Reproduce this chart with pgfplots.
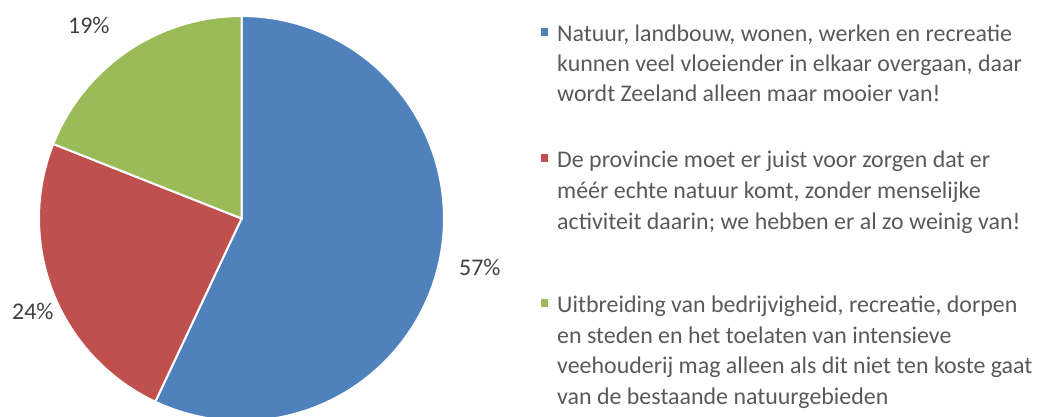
\documentclass[border=0pt]{standalone}
\usepackage{fontspec}
\setmainfont{Carlito}
\usepackage{pgfplots}
\usepackage{pgfplotstable}
\pgfplotsset{compat=1.18}
\definecolor{cblue}{HTML}{4F81BD}
\definecolor{cred}{HTML}{C0504D}
\definecolor{cgreen}{HTML}{9BBB59}
\definecolor{ltext}{HTML}{595959}
\definecolor{dtext}{HTML}{404040}
\pgfplotstableread{
share
57
24
19
}\piedata
\pgfplotstablegetelem{0}{share}\of\piedata\let\va\pgfplotsretval
\pgfplotstablegetelem{1}{share}\of\piedata\let\vb\pgfplotsretval
\pgfplotstablegetelem{2}{share}\of\piedata\let\vc\pgfplotsretval
\pgfmathsetmacro{\aA}{90}
\pgfmathsetmacro{\aB}{90-3.6*\va}
\pgfmathsetmacro{\aC}{\aB-3.6*\vb}
\pgfmathsetmacro{\aD}{\aC-3.6*\vc}
\def\cx{241.5}\def\cy{198.5}\def\rr{202.5}
\begin{document}
\begin{tikzpicture}
\path[use as bounding box] (0,0) rectangle (1038bp,417bp);
\begin{axis}[at={(0,0)},anchor=south west,
  width=1038bp,height=417bp,scale only axis,
  xmin=0,xmax=1038,ymin=0,ymax=417,hide axis,clip=false]
\addplot[fill=cblue,draw=white,line width=2bp,domain=\aA:\aB,samples=120,variable=\t]
  ({\cx+\rr*cos(\t)},{\cy+\rr*sin(\t)}) -- (axis cs:\cx,\cy) -- cycle;
\addplot[fill=cred,draw=white,line width=2bp,domain=\aB:\aC,samples=60,variable=\t]
  ({\cx+\rr*cos(\t)},{\cy+\rr*sin(\t)}) -- (axis cs:\cx,\cy) -- cycle;
\addplot[fill=cgreen,draw=white,line width=2bp,domain=\aC:\aD,samples=60,variable=\t]
  ({\cx+\rr*cos(\t)},{\cy+\rr*sin(\t)}) -- (axis cs:\cx,\cy) -- cycle;
\begin{scope}[every node/.style={inner sep=0pt,anchor=base west,text=dtext,font=\fontsize{24}{30}\selectfont}]
\node at (axis cs:459,{417-276}) {\va\%};
\node at (axis cs:12,{417-320}) {\vb\%};
\node at (axis cs:68,{417-34}) {\vc\%};
\end{scope}
\begin{scope}[every node/.style={inner sep=0pt,anchor=base west,text=ltext,font=\fontsize{24}{30}\selectfont}]
\fill[cblue] (axis cs:541,{417-28}) rectangle (axis cs:548,{417-36});
\node at (axis cs:557,{417-42}) {Natuur, landbouw, wonen, werken en recreatie};
\node at (axis cs:557,{417-72}) {kunnen veel vloeiender in elkaar overgaan, daar};
\node at (axis cs:557,{417-102}) {wordt Zeeland alleen maar mooier van!};
\fill[cred] (axis cs:541,{417-154}) rectangle (axis cs:548,{417-162});
\node at (axis cs:557,{417-168}) {De provincie moet er juist voor zorgen dat er};
\node at (axis cs:557,{417-199}) {méér echte natuur komt, zonder menselijke};
\node at (axis cs:557,{417-230}) {activiteit daarin; we hebben er al zo weinig van!};
\fill[cgreen] (axis cs:541,{417-299}) rectangle (axis cs:548,{417-307});
\node at (axis cs:557,{417-313}) {Uitbreiding van bedrijvigheid, recreatie, dorpen};
\node at (axis cs:557,{417-343.5}) {en steden en het toelaten van intensieve};
\node at (axis cs:557,{417-374}) {veehouderij mag alleen als dit niet ten koste gaat};
\node at (axis cs:557,{417-404}) {van de bestaande natuurgebieden};
\end{scope}
\end{axis}
\end{tikzpicture}
\end{document}
